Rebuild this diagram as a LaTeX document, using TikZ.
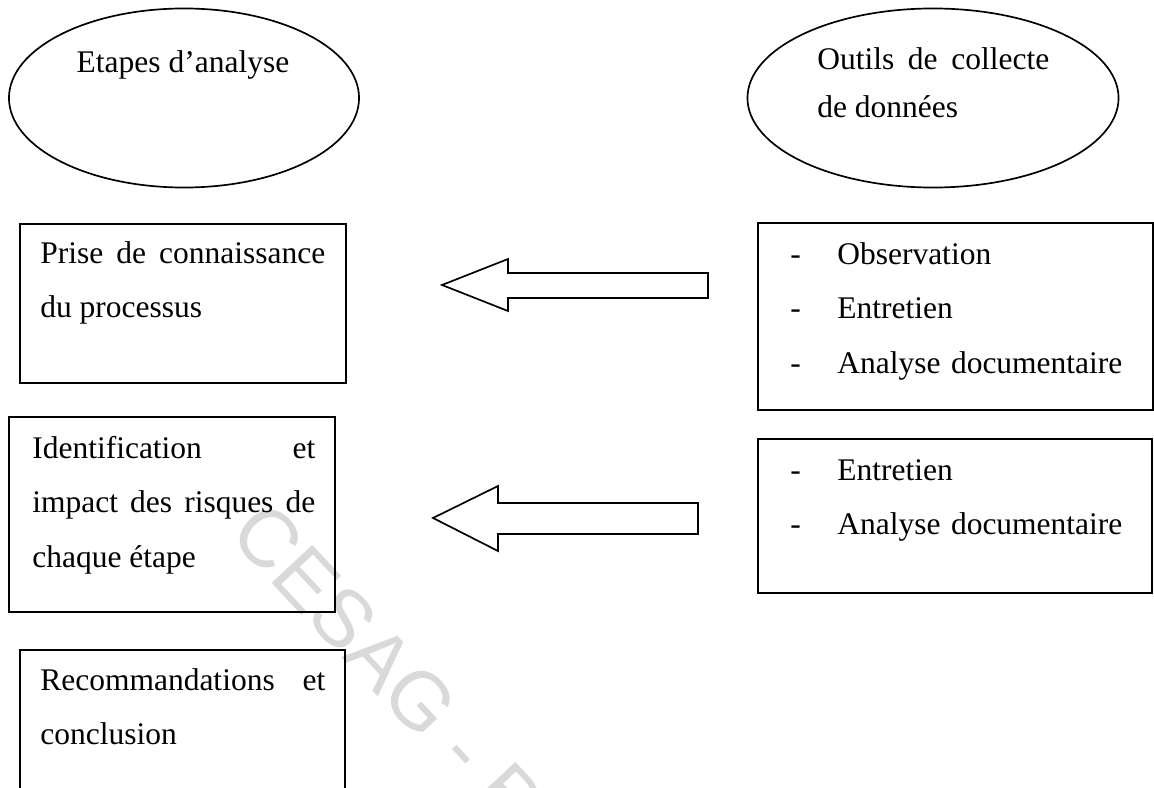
\documentclass[tikz,border=0pt]{standalone}
\usepackage{fontspec}
\setmainfont{Liberation Serif}
\newfontfamily\wmfont{Liberation Sans}
\usetikzlibrary{shapes.geometric}
\hyphenpenalty=10000
\exhyphenpenalty=10000
\tolerance=10000
\newcommand{\tiret}{\makebox[1.175cm][l]{-}}
\tikzset{
  bulle/.style={draw, ellipse, line width=1.2pt, inner sep=0pt},
  cadre/.style={draw, rectangle, line width=1.2pt, inner sep=0pt},
  texte/.style={anchor=base west, inner sep=0pt, align=justify, font=\fontsize{22.4}{39}\selectfont},
  liste/.style={anchor=base west, inner sep=0pt, align=left, text width=9cm, font=\fontsize{22.4}{39}\selectfont},
  titre/.style={anchor=base, inner sep=0pt, font=\fontsize{22.4}{39}\selectfont},
  fleche/.style={draw, line width=1.2pt},
  filigrane/.style={rotate=-47, inner sep=0pt, text=black!15, font=\wmfont\fontsize{57.6}{60}\selectfont}
}
\begin{document}
\begin{tikzpicture}[x=0.025cm, y=-0.025cm]
\useasboundingbox (0,0) rectangle (1154,787);
\clip (0,0) rectangle (1154,787);
\node[filigrane] (cesag) at (388,666) {CESAG - B};

% etapes
\node[bulle, minimum width=8.75cm, minimum height=4.475cm] (etapes) at (184,98) {};
\node[titre] (etapestxt) at (183,73) {Etapes d'analyse};
\node[cadre, minimum width=8.15cm, minimum height=3.975cm] (prise) at (183,303.5) {};
\node[texte, text width=7.125cm] (prisetxt) at (40,263) {Prise de connaissance du processus};
\node[cadre, minimum width=8.15cm, minimum height=4.875cm] (ident) at (172,514.5) {};
\node[texte, text width=7.075cm] (identtxt) at (32,458) {Identification et impact des risques de chaque étape};
\node[cadre, minimum width=8.125cm, minimum height=5cm] (recom) at (182.5,750) {};
\node[texte, text width=7.125cm] (recomtxt) at (40,690) {Recommandations et conclusion};

% outils
\node[bulle, minimum width=9.275cm, minimum height=4.475cm] (outils) at (933,98) {};
\node[texte, text width=5.8cm, font=\fontsize{22.4}{34}\selectfont] (outilstxt) at (817,70) {Outils de collecte de données};
\node[cadre, minimum width=9.875cm, minimum height=4.675cm] (obs) at (955.5,316.5) {};
\node[liste] (obstxt) at (790,264) {\tiret Observation\\ \tiret Entretien\\ \tiret Analyse documentaire};
\node[cadre, minimum width=9.85cm, minimum height=3.85cm] (ent) at (955,516) {};
\node[liste] (enttxt) at (790,480) {\tiret Entretien\\ \tiret Analyse documentaire};

% fleches
\coordinate (f1) at (442,285);
\coordinate (f2) at (433,518);
\draw[fleche] (f1) -- ++(66,-26) -- ++(0,14) -- ++(200,0) -- ++(0,25) -- ++(-200,0) -- ++(0,13) -- cycle;
\draw[fleche] (f2) -- ++(65,-32) -- ++(0,17) -- ++(200,0) -- ++(0,31) -- ++(-200,0) -- ++(0,17) -- cycle;
\end{tikzpicture}
\end{document}
